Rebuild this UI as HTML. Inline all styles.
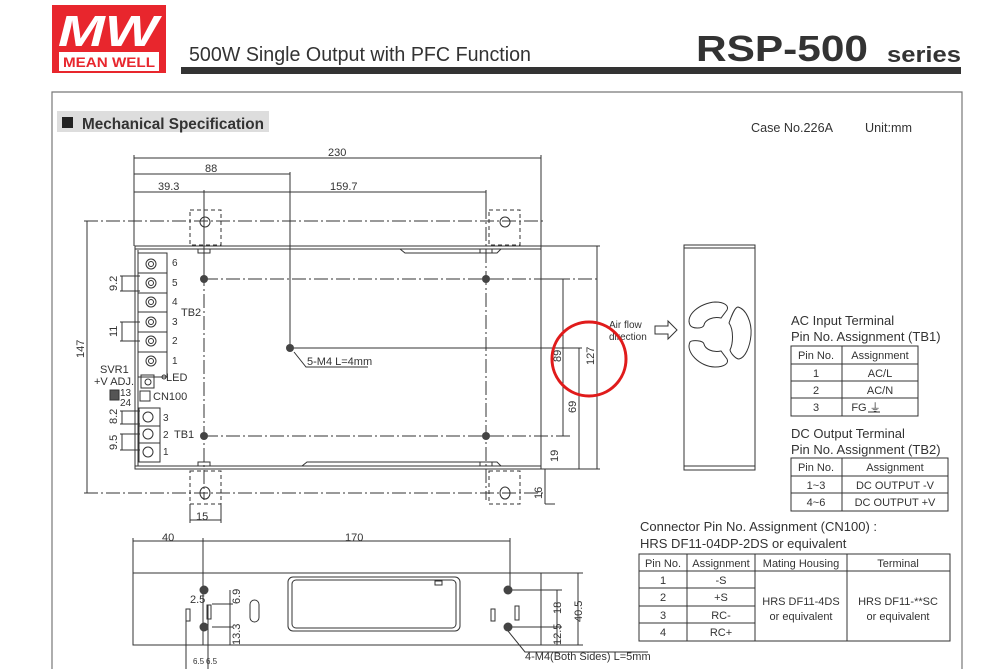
<!DOCTYPE html>
<html><head><meta charset="utf-8"><style>
html,body{margin:0;padding:0;background:#fff;}
svg{display:block;}
text{font-family:"Liberation Sans",sans-serif;fill:#333;}
</style></head><body>
<svg width="1000" height="669" viewBox="0 0 1000 669" xmlns="http://www.w3.org/2000/svg">
<rect width="1000" height="669" fill="#fff"/>
<!-- Logo -->
<rect x="52" y="5" width="114" height="68" fill="#e8262d"/>
<text x="58" y="46" font-size="44" font-style="italic" font-weight="bold" fill="#fff" style="fill:#fff" textLength="100" lengthAdjust="spacingAndGlyphs">MW</text>
<rect x="59" y="52" width="100" height="19" fill="#fff"/>
<text x="63" y="67" font-size="14" font-weight="bold" style="fill:#e8262d" textLength="92" lengthAdjust="spacingAndGlyphs">MEAN WELL</text>
<!-- Title -->
<text x="189" y="61" font-size="20" textLength="342" lengthAdjust="spacingAndGlyphs">500W Single Output with PFC Function</text>
<text x="696" y="61" font-size="36" font-weight="bold" textLength="172" lengthAdjust="spacingAndGlyphs">RSP-500</text>
<text x="887" y="62" font-size="22" font-weight="bold" textLength="74" lengthAdjust="spacingAndGlyphs">series</text>
<rect x="181" y="67" width="780" height="7" fill="#333"/>
<!-- Frame -->
<path d="M52,669 V92 H962 V669" fill="none" stroke="#777" stroke-width="1.2"/>
<rect x="57" y="111" width="212" height="21" fill="#ddd"/>
<rect x="62" y="117" width="11" height="11" fill="#222"/>
<text x="82" y="129" font-size="16" font-weight="bold" textLength="182" lengthAdjust="spacingAndGlyphs">Mechanical Specification</text>
<text x="751" y="132" font-size="13" textLength="82" lengthAdjust="spacingAndGlyphs">Case No.226A</text>
<text x="865" y="132" font-size="13" textLength="47" lengthAdjust="spacingAndGlyphs">Unit:mm</text>

<g stroke="#333" stroke-width="1" fill="none">
<!-- top dims -->
<line x1="134" y1="158" x2="541" y2="158"/>
<line x1="134" y1="174" x2="290" y2="174"/>
<line x1="134" y1="192" x2="486" y2="192"/>
<line x1="134" y1="155" x2="134" y2="246"/>
<line x1="541" y1="155" x2="541" y2="246"/>
<line x1="290" y1="172" x2="290" y2="348"/>
<line x1="486" y1="190" x2="486" y2="210"/>
<line x1="204" y1="190" x2="204" y2="279"/>
<!-- dash dot -->
<g stroke-dasharray="14,3,2,3">
<line x1="84" y1="221" x2="545" y2="221"/>
<line x1="204" y1="279" x2="600" y2="279"/>
<line x1="204" y1="436" x2="570" y2="436"/>
<line x1="84" y1="493" x2="545" y2="493"/>
<line x1="204" y1="250" x2="204" y2="500"/>
<line x1="486" y1="205" x2="486" y2="500"/>
</g>
<!-- ears -->
<g stroke-dasharray="4,3">
<rect x="190" y="210" width="31" height="35"/>
<rect x="489" y="210" width="31" height="35"/>
<rect x="190" y="471" width="31" height="33"/>
<rect x="489" y="471" width="31" height="33"/>
</g>
<ellipse cx="205" cy="222" rx="5" ry="5"/><ellipse cx="505" cy="222" rx="5" ry="5"/>
<ellipse cx="205" cy="493" rx="5" ry="6"/><ellipse cx="505" cy="493" rx="5" ry="6"/>
<!-- main body -->
<rect x="135" y="246" width="406" height="223"/>
<line x1="135" y1="249" x2="541" y2="249"/>
<line x1="135" y1="466" x2="541" y2="466"/>
<rect x="198" y="249" width="12" height="4"/><rect x="480" y="249" width="12" height="4"/>
<rect x="198" y="462" width="12" height="4"/><rect x="480" y="462" width="12" height="4"/>
<path d="M400,249 l5,4 h92 l4,-4"/>
<path d="M302,466 l5,-4 h190 l4,4"/>
<line x1="138" y1="250" x2="138" y2="466"/>
<!-- left 147 dim -->
<line x1="87" y1="221" x2="87" y2="493"/>
<!-- right dims -->
<line x1="541" y1="279" x2="566" y2="279"/>
<line x1="290" y1="348" x2="582" y2="348"/>
<line x1="541" y1="469" x2="600" y2="469"/>
<line x1="541" y1="246" x2="600" y2="246"/>
<line x1="563" y1="279" x2="563" y2="436"/>
<line x1="579" y1="348" x2="579" y2="469"/>
<line x1="597" y1="246" x2="597" y2="469"/>
<line x1="545" y1="469" x2="545" y2="504"/>
<line x1="545" y1="504" x2="555" y2="504"/>
<!-- 15 dim -->
<line x1="190" y1="504" x2="190" y2="523"/><line x1="221" y1="504" x2="221" y2="523"/>
<line x1="190" y1="520" x2="221" y2="520"/>
<!-- TB2 -->
<rect x="138" y="253" width="29" height="124"/>
<line x1="138" y1="273" x2="167" y2="273"/><line x1="138" y1="293" x2="167" y2="293"/><line x1="138" y1="312" x2="167" y2="312"/><line x1="138" y1="332" x2="167" y2="332"/><line x1="138" y1="352" x2="167" y2="352"/>
<g>
<circle cx="151" cy="264" r="5"/><circle cx="151" cy="283" r="5"/><circle cx="151" cy="302" r="5"/><circle cx="151" cy="322" r="5"/><circle cx="151" cy="341" r="5"/><circle cx="151" cy="361" r="5"/>
<circle cx="151" cy="264" r="2.5"/><circle cx="151" cy="283" r="2.5"/><circle cx="151" cy="302" r="2.5"/><circle cx="151" cy="322" r="2.5"/><circle cx="151" cy="341" r="2.5"/><circle cx="151" cy="361" r="2.5"/>
</g>
<line x1="120" y1="276" x2="140" y2="276"/><line x1="120" y1="291" x2="140" y2="291"/><line x1="122" y1="276" x2="122" y2="291"/>
<line x1="120" y1="322" x2="140" y2="322"/><line x1="120" y1="341" x2="140" y2="341"/><line x1="122" y1="322" x2="122" y2="341"/>
<!-- SVR1 -->
<rect x="141" y="375" width="13" height="13"/><circle cx="148" cy="382" r="3"/>
<circle cx="164" cy="377" r="2"/>
<rect x="110" y="390" width="9" height="10" fill="#555"/>
<rect x="140" y="391" width="10" height="10"/>
<!-- TB1 -->
<rect x="139" y="408" width="21" height="54"/>
<line x1="139" y1="426" x2="160" y2="426"/><line x1="139" y1="443" x2="160" y2="443"/>
<circle cx="148" cy="417" r="5"/><circle cx="148" cy="434" r="5"/><circle cx="148" cy="452" r="5"/>
<line x1="120" y1="411" x2="140" y2="411"/><line x1="120" y1="424" x2="140" y2="424"/><line x1="122" y1="411" x2="122" y2="424"/>
<line x1="120" y1="434" x2="140" y2="434"/><line x1="120" y1="450" x2="140" y2="450"/><line x1="122" y1="434" x2="122" y2="450"/>
<!-- leader 5-M4 -->
<path d="M294,352 l12,15 h62"/>
<!-- end view -->
<rect x="684" y="245" width="71" height="225"/>
<line x1="684" y1="248" x2="755" y2="248"/><line x1="684" y1="466" x2="755" y2="466"/>
<path d="M690,325 c-5,-10 10,-22 25,-23 c10,0 14,4 12,8 l-6,8 c-8,-2 -16,2 -17,7 c-1,4 -12,4 -14,0 z"/>
<path d="M690,342 c-5,10 10,25 25,25 c10,0 14,-4 12,-8 l-6,-8 c-8,2 -16,-2 -17,-7 c-1,-4 -12,-4 -14,-2 z"/>
<path d="M738,307 c8,2 14,15 13,28 c-1,12 -6,23 -12,24 c-3,0 -8,-5 -9,-9 c3,-6 4,-20 -1,-27 c2,-6 6,-16 9,-16 z"/>
<!-- airflow arrow -->
<path d="M655,326 h13 v-5 l9,9 l-9,9 v-5 h-13 z"/>
<!-- bottom view -->
<line x1="133" y1="541" x2="510" y2="541"/>
<line x1="133" y1="538" x2="133" y2="573"/>
<line x1="203" y1="538" x2="203" y2="645"/>
<line x1="510" y1="538" x2="510" y2="590"/>
<rect x="133" y="573" width="408" height="72"/>
<line x1="541" y1="573" x2="583" y2="573"/><line x1="541" y1="645" x2="583" y2="645"/>
<line x1="578" y1="573" x2="578" y2="645"/>
<line x1="510" y1="590" x2="562" y2="590"/><line x1="510" y1="627" x2="562" y2="627"/>
<line x1="557" y1="590" x2="557" y2="645"/>
<rect x="288" y="577" width="172" height="54" rx="5"/>
<rect x="292" y="580" width="164" height="48" rx="4"/>
<rect x="435" y="581" width="7" height="4"/>
<rect x="250" y="600" width="9" height="22" rx="4.5"/>
<rect x="186" y="609" width="4" height="12"/><rect x="207" y="605" width="4" height="14"/>
<rect x="491" y="609" width="4" height="12"/><rect x="515" y="606" width="4" height="14"/>
<line x1="186" y1="609" x2="186" y2="669"/><line x1="208" y1="605" x2="208" y2="669"/>
<line x1="212" y1="604" x2="233" y2="604"/><line x1="212" y1="627" x2="233" y2="627"/>
<line x1="230" y1="590" x2="230" y2="645"/>
<path d="M508,631 l17,21 h123"/>
</g>
<g fill="#444">
<circle cx="204" cy="279" r="4"/><circle cx="486" cy="279" r="4"/><circle cx="204" cy="436" r="4"/><circle cx="486" cy="436" r="4"/><circle cx="290" cy="348" r="4"/>
<circle cx="204" cy="590" r="4.5"/><circle cx="204" cy="627" r="4.5"/><circle cx="508" cy="590" r="4.5"/><circle cx="508" cy="627" r="4.5"/>
</g>
<!-- dim labels -->
<g font-size="11">
<text x="328" y="156">230</text>
<text x="205" y="172">88</text>
<text x="158" y="190">39.3</text>
<text x="330" y="190">159.7</text>
<text x="196" y="520">15</text>
<text x="172" y="266" font-size="10">6</text><text x="172" y="286" font-size="10">5</text><text x="172" y="305" font-size="10">4</text><text x="172" y="325" font-size="10">3</text><text x="172" y="344" font-size="10">2</text><text x="172" y="364" font-size="10">1</text>
<text x="181" y="316">TB2</text>
<text x="166" y="381">LED</text>
<text x="100" y="373">SVR1</text>
<text x="94" y="385">+V ADJ.</text>
<text x="120" y="396" font-size="10">13</text><text x="120" y="406" font-size="10">24</text>
<text x="153" y="400">CN100</text>
<text x="163" y="421" font-size="10">3</text><text x="163" y="438" font-size="10">2</text><text x="163" y="455" font-size="10">1</text>
<text x="174" y="438">TB1</text>
<text x="307" y="365">5-M4 L=4mm</text>
<text x="609" y="328" font-size="10">Air flow</text>
<text x="609" y="340" font-size="10">direction</text>
<text x="162" y="541">40</text>
<text x="345" y="541">170</text>
<text x="190" y="603">2.5</text>
<text x="525" y="660">4-M4(Both Sides) L=5mm</text>
</g>
<g font-size="11">
<text transform="translate(84,358) rotate(-90)">147</text>
<text transform="translate(117,291) rotate(-90)">9.2</text>
<text transform="translate(117,337) rotate(-90)">11</text>
<text transform="translate(117,424) rotate(-90)">8.2</text>
<text transform="translate(117,450) rotate(-90)">9.5</text>
<text transform="translate(561,362) rotate(-90)">89</text>
<text transform="translate(576,413) rotate(-90)">69</text>
<text transform="translate(594,365) rotate(-90)">127</text>
<text transform="translate(558,462) rotate(-90)">19</text>
<text transform="translate(542,499) rotate(-90)">16</text>
<text transform="translate(240,604) rotate(-90)">6.9</text>
<text transform="translate(240,645) rotate(-90)">13.3</text>
<text transform="translate(561,614) rotate(-90)">18</text>
<text transform="translate(561,645) rotate(-90)">12.5</text>
<text transform="translate(582,622) rotate(-90)">40.5</text>
</g>
<text x="193" y="664" font-size="8">6.5</text><text x="206" y="664" font-size="8">6.5</text>
<!-- red circle -->
<circle cx="589" cy="359" r="37" fill="none" stroke="#e01b1b" stroke-width="3"/>

<!-- AC table -->
<g font-size="13">
<text x="791" y="325">AC Input Terminal</text>
<text x="791" y="341">Pin No.  Assignment (TB1)</text>
<text x="791" y="438">DC Output Terminal</text>
<text x="791" y="454">Pin No.  Assignment (TB2)</text>
<text x="640" y="531">Connector Pin No. Assignment (CN100) :</text>
<text x="640" y="548">HRS DF11-04DP-2DS or equivalent</text>
</g>
<g stroke="#333" stroke-width="1" fill="none">
<rect x="791" y="346" width="127" height="70"/>
<line x1="842" y1="346" x2="842" y2="416"/>
<line x1="791" y1="364" x2="918" y2="364"/><line x1="791" y1="381" x2="918" y2="381"/><line x1="791" y1="398" x2="918" y2="398"/>
<rect x="791" y="458" width="157" height="53"/>
<line x1="842" y1="458" x2="842" y2="511"/>
<line x1="791" y1="476" x2="948" y2="476"/><line x1="791" y1="493" x2="948" y2="493"/>
<rect x="639" y="554" width="311" height="87"/>
<line x1="687" y1="554" x2="687" y2="641"/><line x1="755" y1="554" x2="755" y2="641"/><line x1="847" y1="554" x2="847" y2="641"/>
<line x1="639" y1="571" x2="950" y2="571"/>
<line x1="639" y1="588" x2="755" y2="588"/><line x1="639" y1="606" x2="755" y2="606"/><line x1="639" y1="623" x2="755" y2="623"/>
<line x1="868" y1="412" x2="880" y2="412"/>
</g>
<g font-size="11" text-anchor="middle">
<text x="816" y="359">Pin No.</text><text x="880" y="359">Assignment</text>
<text x="816" y="377">1</text><text x="880" y="377">AC/L</text>
<text x="816" y="394">2</text><text x="880" y="394">AC/N</text>
<text x="816" y="411">3</text><text x="866" y="411">FG ⏚</text>
<text x="816" y="471">Pin No.</text><text x="895" y="471">Assignment</text>
<text x="816" y="489">1~3</text><text x="895" y="489">DC OUTPUT -V</text>
<text x="816" y="506">4~6</text><text x="895" y="506">DC OUTPUT +V</text>
<text x="663" y="567">Pin No.</text><text x="721" y="567">Assignment</text><text x="801" y="567">Mating Housing</text><text x="898" y="567">Terminal</text>
<text x="663" y="584">1</text><text x="721" y="584">-S</text>
<text x="663" y="601">2</text><text x="721" y="601">+S</text>
<text x="663" y="619">3</text><text x="721" y="619">RC-</text>
<text x="663" y="636">4</text><text x="721" y="636">RC+</text>
<text x="801" y="605">HRS DF11-4DS</text><text x="801" y="620">or equivalent</text>
<text x="898" y="605">HRS DF11-**SC</text><text x="898" y="620">or equivalent</text>
</g>
</svg>
</body></html>
